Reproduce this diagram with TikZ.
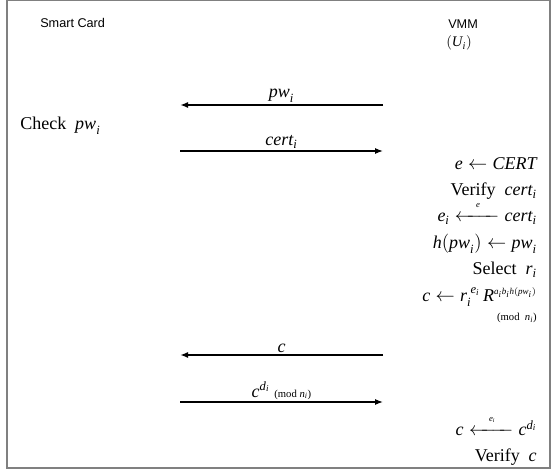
\documentclass[tikz,border=0pt]{standalone}
\usepackage{amsmath}
\usepackage{fontspec}
\setmainfont{Liberation Serif}
\setsansfont{Liberation Sans}
\usetikzlibrary{arrows.meta}
\newcommand{\itx}[1]{\textit{#1}}
\newcommand{\lbl}[1]{\makebox[26pt]{\raisebox{3pt}{\fontsize{6.5}{7}\selectfont#1}}}
\tikzset{
  msg/.style={line width=1.2pt,-{Latex[length=6pt,width=4.5pt]}},
  msgthin/.style={msg,line width=0.9pt},
  party/.style={font=\sffamily\fontsize{9.5}{10.5}\selectfont,inner sep=0pt,anchor=base west,align=left},
  stepnote/.style={font=\fontsize{13.5}{15}\selectfont,inner sep=0pt,anchor=base east},
  msglabel/.style={font=\fontsize{13.5}{15}\selectfont,inner sep=0pt,anchor=base,above=1.5pt},
}
\begin{document}
\begin{tikzpicture}[x=0.75pt,y=-0.75pt]
\useasboundingbox (0,0) rectangle (551,473);
\draw[gray,line width=1.1pt] (7,0.5) rectangle (550,468);

% parties
\node[party] (card) at (40,28) {Smart Card};
\node[party] (vmm) at (448,29) {VMM};
\node[party,font=\fontsize{11}{12}\selectfont] (user) at (446,47) {$(\itx{U}_{\itx{i}})$};

% lanes
\coordinate (pwR) at (383,105);   \coordinate (pwL) at (180,105);
\coordinate (certL) at (180,151); \coordinate (certR) at (383,151);
\coordinate (cR) at (383,355);    \coordinate (cL) at (180,355);
\coordinate (cdL) at (180,402);   \coordinate (cdR) at (383,402);

\draw[msg] (pwR) -- node[msglabel] {$\itx{pw}_{\itx{i}}$} (pwL);
\draw[msgthin] (certL) -- node[msglabel] {$\itx{cert}_{\itx{i}}$} (certR);
\draw[msg] (cR) -- node[msglabel] {$\itx{c}$} (cL);
\draw[msgthin] (cdL) -- node[msglabel] {$\itx{c}^{\itx{d}_{\itx{i}}}$\ {\fontsize{8}{9}\selectfont (mod\ \itx{n}$_{\itx{i}}$)}} (cdR);

% smart card side
\node[stepnote,anchor=base west] (check) at (20,130) {Check\ \ $\itx{pw}_{\itx{i}}$};

% VMM side
\node[stepnote] (s1) at (537,170) {$\itx{e}\leftarrow\itx{CERT}$};
\node[stepnote] (s2) at (537,196) {Verify\ \ $\itx{cert}_{\itx{i}}$};
\node[stepnote] (s3) at (537,222) {$\itx{e}_{\itx{i}}\xleftarrow{\lbl{\itx{e}}}\itx{cert}_{\itx{i}}$};
\node[stepnote] (s4) at (537,249) {$\itx{h}(\itx{pw}_{\itx{i}})\leftarrow\itx{pw}_{\itx{i}}$};
\node[stepnote] (s5) at (537,275) {Select\ \ $\itx{r}_{\itx{i}}$};
\node[stepnote] (s6) at (537,302) {$\itx{c}\leftarrow\itx{r}_{\itx{i}}^{\;\itx{e}_{\itx{i}}}\,\itx{R}^{\scriptscriptstyle\itx{a}_{\itx{i}}\itx{b}_{\itx{i}}\itx{h}(\itx{pw}_{\itx{i}})}$};
\node[stepnote,font=\fontsize{8}{9}\selectfont] (s6mod) at (537,321) {(mod\ \ \itx{n}$_{\itx{i}}$)};
\node[stepnote] (s7) at (537,436) {$\itx{c}\xleftarrow{\lbl{$\itx{e}_{\itx{i}}$}}\itx{c}^{\itx{d}_{\itx{i}}}$};
\node[stepnote] (s8) at (537,462) {Verify\ \ $\itx{c}$};
\end{tikzpicture}
\end{document}
